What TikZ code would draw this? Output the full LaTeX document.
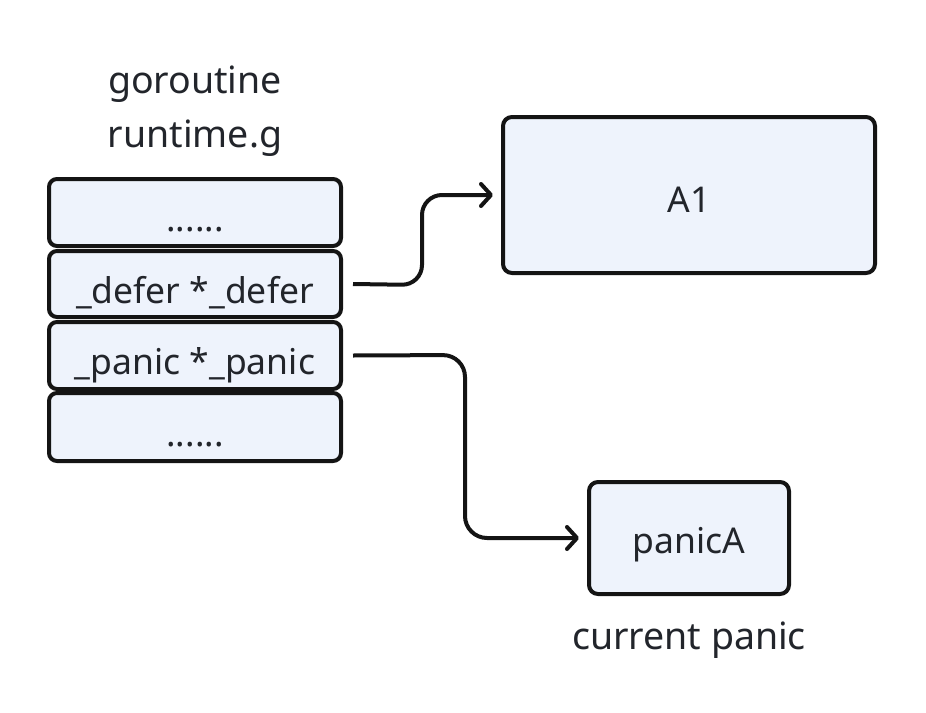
\documentclass[tikz,border=0pt]{standalone}
\usepackage{fontspec}
\setmainfont{Noto Sans}
\usetikzlibrary{arrows.meta}
\definecolor{boxfill}{HTML}{EEF3FC}
\definecolor{ink}{HTML}{141414}
\definecolor{txt}{HTML}{22252B}
\begin{document}
\begin{tikzpicture}[x=1pt,y=-1pt,
  cell/.style={draw=ink,line width=4pt,fill=boxfill,rounded corners=8pt,minimum width=292pt,inner sep=0pt,text=txt,font=\fontsize{35.5}{40}\selectfont,text height=38pt,text depth=0pt},
  bigbox/.style={draw=ink,line width=4pt,fill=boxfill,rounded corners=9pt,inner sep=0pt,text=txt,font=\fontsize{35.5}{40}\selectfont,text depth=0pt},
  lbl/.style={text=txt,font=\fontsize{37.5}{42}\selectfont,inner sep=0pt,anchor=base},
  conn/.style={draw=ink,line width=4pt,rounded corners=22pt,-{Straight Barb[length=10pt,width=22pt,line width=4pt,round]}}]
\useasboundingbox (0,0) rectangle (926,712);
\node[lbl] (t1) at (195,93) {goroutine};
\node[lbl] (t2) at (195,147) {runtime.g};
\node[cell,minimum height=67pt] (c1) at (195,212.5) {......};
\node[cell,minimum height=66pt] (c2) at (195,284) {\_defer *\_defer};
\node[cell,minimum height=67pt] (c3) at (195,355.5) {\_panic *\_panic};
\node[cell,minimum height=68pt] (c4) at (195,427) {......};
\node[bigbox,minimum width=372pt,minimum height=156pt,text height=34pt] (a1) at (689,195) {A1};
\node[bigbox,minimum width=200pt,minimum height=112pt,text height=31pt] (pa) at (689,538) {panicA};
\node[lbl] (cp) at (689,649) {current panic};
\coordinate (s1) at ([xshift=10pt]c2.east);
\coordinate (s2) at ([xshift=10pt]c3.east);
\draw[conn,rounded corners=20pt] (s1) -- (422,285) -- (422,195) -- ([xshift=-8pt]a1.west);
\draw[conn] (s2) -- (465,355) -- (465,538) -- ([xshift=-8pt]pa.west);
\end{tikzpicture}
\end{document}
